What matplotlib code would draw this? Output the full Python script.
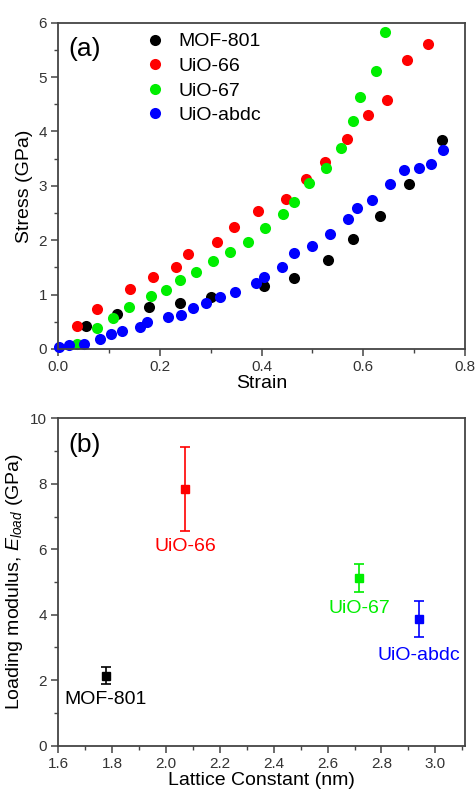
import matplotlib
matplotlib.use("Agg")
import matplotlib.pyplot as plt
from matplotlib.ticker import MultipleLocator

plt.rcParams["font.family"] = ["Liberation Sans", "DejaVu Sans"]
plt.rcParams["mathtext.fontset"] = "custom"
plt.rcParams["mathtext.rm"] = "Liberation Sans"
plt.rcParams["mathtext.it"] = "Liberation Sans:italic"

# (a) stress-strain data
mof801_strain = [0.055, 0.116, 0.179, 0.239, 0.30, 0.404, 0.463, 0.53, 0.579, 0.633, 0.689, 0.755]
mof801_stress = [0.42, 0.64, 0.77, 0.84, 0.95, 1.15, 1.31, 1.64, 2.02, 2.44, 3.03, 3.84]

uio66_strain = [0.037, 0.076, 0.141, 0.187, 0.231, 0.255, 0.312, 0.345, 0.393, 0.448,
                0.488, 0.524, 0.568, 0.610, 0.647, 0.686, 0.728]
uio66_stress = [0.42, 0.735, 1.10, 1.32, 1.50, 1.74, 1.97, 2.24, 2.54, 2.75,
                3.12, 3.43, 3.87, 4.31, 4.57, 5.31, 5.60]

uio67_strain = [0.036, 0.076, 0.107, 0.139, 0.182, 0.212, 0.24, 0.271, 0.304, 0.338,
                0.374, 0.406, 0.443, 0.464, 0.494, 0.527, 0.556, 0.58, 0.594, 0.624, 0.643]
uio67_stress = [0.09, 0.38, 0.57, 0.78, 0.98, 1.08, 1.26, 1.42, 1.61, 1.78,
                1.96, 2.22, 2.48, 2.70, 3.06, 3.32, 3.69, 4.19, 4.63, 5.11, 5.82]

abdc_strain = [0.002, 0.021, 0.05, 0.082, 0.104, 0.125, 0.161, 0.175, 0.215, 0.242,
               0.265, 0.29, 0.318, 0.348, 0.389, 0.404, 0.44, 0.463, 0.50, 0.535,
               0.569, 0.588, 0.617, 0.653, 0.68, 0.709, 0.734, 0.756]
abdc_stress = [0.04, 0.07, 0.10, 0.18, 0.28, 0.33, 0.41, 0.49, 0.59, 0.63,
               0.75, 0.85, 0.96, 1.05, 1.21, 1.32, 1.50, 1.77, 1.89, 2.11,
               2.39, 2.59, 2.74, 3.03, 3.29, 3.32, 3.40, 3.66]

# (b) loading modulus vs lattice constant
names = ["MOF-801", "UiO-66", "UiO-67", "UiO-abdc"]
colors = ["#000000", "#ff0000", "#00ee00", "#0000ff"]
lattice = [1.777, 2.071, 2.718, 2.938]
modulus = [2.14, 7.84, 5.12, 3.87]
mod_err = [0.26, 1.27, 0.43, 0.55]
label_y = [1.42, 6.09, 4.18, 2.77]

spine_c = "#444444"
tick_c = "#333333"

fig = plt.figure(figsize=(4.77, 7.94), dpi=100)
ax1 = fig.add_axes([0.1222, 0.5605, 0.8526, 0.4109])
ax2 = fig.add_axes([0.1222, 0.0608, 0.8526, 0.4124])

series = [(mof801_strain, mof801_stress), (uio66_strain, uio66_stress),
          (uio67_strain, uio67_stress), (abdc_strain, abdc_stress)]
for (xs, ys), c, n in zip(series, colors, names):
    ax1.plot(xs, ys, "o", color=c, ms=8, mec="none", label=n, clip_on=False)

ax1.set_xlim(0, 0.8)
ax1.set_ylim(0, 6)
ax1.xaxis.set_major_locator(MultipleLocator(0.2))
ax1.xaxis.set_minor_locator(MultipleLocator(0.1))
ax1.yaxis.set_major_locator(MultipleLocator(1))
ax1.yaxis.set_minor_locator(MultipleLocator(0.5))
ax1.xaxis.set_major_formatter(plt.FuncFormatter(lambda v, p: f"{v:.1f}"))
ax1.set_xlabel("Strain", fontsize=14, labelpad=1)
ax1.set_ylabel("Stress (GPa)", fontsize=14, labelpad=4)
ax1.text(0.025, 0.955, "(a)", transform=ax1.transAxes, fontsize=19, va="top", ha="left")
ax1.legend(loc="upper left", bbox_to_anchor=(0.18, 1.005), frameon=False, fontsize=14,
           handletextpad=0.6, labelspacing=0.36, borderaxespad=0.2, handlelength=1.2,
           markerscale=1.0)

for x, y, e, c, n, ly in zip(lattice, modulus, mod_err, colors, names, label_y):
    ax2.errorbar(x, y, yerr=e, fmt="s", color=c, ms=5.5, capsize=3.8, elinewidth=1.2,
                 capthick=1.2)
    ax2.text(x, ly, n, color=c, fontsize=14, ha="center", va="center")

ax2.set_xlim(1.6, 3.11)
ax2.set_ylim(0, 10)
ax2.xaxis.set_major_locator(MultipleLocator(0.2))
ax2.xaxis.set_minor_locator(MultipleLocator(0.1))
ax2.yaxis.set_major_locator(MultipleLocator(2))
ax2.yaxis.set_minor_locator(MultipleLocator(1))
ax2.xaxis.set_major_formatter(plt.FuncFormatter(lambda v, p: f"{v:.1f}"))
ax2.set_xlabel("Lattice Constant (nm)", fontsize=14, labelpad=1)
ax2.set_ylabel(r"Loading modulus, $\mathit{E}_{\mathit{load}}$ (GPa)", fontsize=14, labelpad=4)
ax2.text(0.025, 0.955, "(b)", transform=ax2.transAxes, fontsize=19, va="top", ha="left")

for ax in (ax1, ax2):
    for s in ax.spines.values():
        s.set_color(spine_c)
        s.set_linewidth(1.3)
    ax.tick_params(which="major", direction="out", length=5, width=1.1, color=spine_c,
                   labelsize=11, labelcolor=tick_c, pad=3)
    ax.tick_params(which="minor", direction="out", length=3, width=1.0, color=spine_c)

fig.savefig("out.png", dpi=100)
